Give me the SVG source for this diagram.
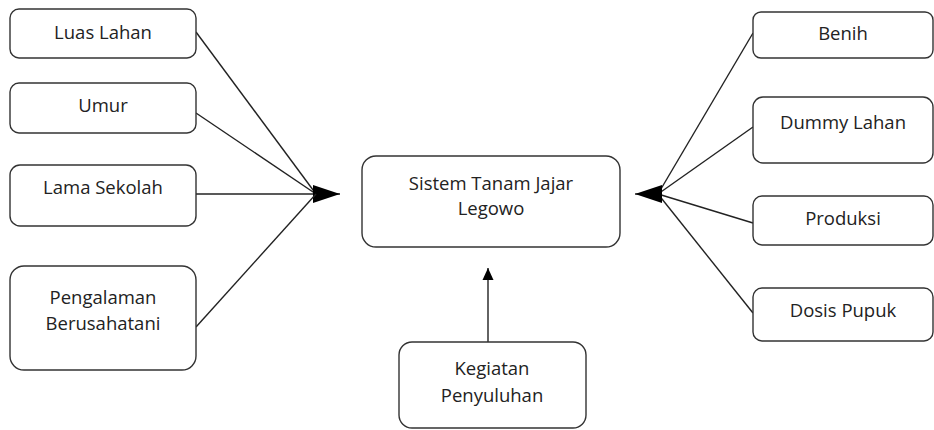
<svg xmlns="http://www.w3.org/2000/svg" width="934" height="430" viewBox="0 0 934 430">
<style>
.box{fill:#fff;stroke:#333;stroke-width:1.4}
.t{font-family:"Open Sans","Liberation Sans",sans-serif;font-size:18.5px;fill:#222;text-anchor:middle}
.c{stroke:#222;stroke-width:1.4;fill:none}
</style>
<defs>
<marker id="ah" markerWidth="28" markerHeight="18" refX="27" refY="9" orient="auto" markerUnits="userSpaceOnUse">
<path d="M0,0 L27,9 L0,18 Z" fill="#000"/>
</marker>
<marker id="ahs" markerWidth="12" markerHeight="12" refX="12" refY="6" orient="auto" markerUnits="userSpaceOnUse">
<path d="M0,0.5 L12,6 L0,11.5 Z" fill="#000"/>
</marker>
</defs>
<g id="connectors">
<line class="c" x1="196" y1="32" x2="316" y2="194"/>
<line class="c" x1="196" y1="113" x2="316" y2="194"/>
<line class="c" x1="196" y1="194" x2="340" y2="194" marker-end="url(#ah)"/>
<line class="c" x1="196" y1="327" x2="316" y2="194"/>
<line class="c" x1="753" y1="33" x2="658" y2="194"/>
<line class="c" x1="753" y1="127" x2="658" y2="194"/>
<line class="c" x1="753" y1="223" x2="658" y2="194"/>
<line class="c" x1="753" y1="313" x2="658" y2="194"/>
<line class="c" x1="660" y1="194" x2="635" y2="194" marker-end="url(#ah)"/>
<line class="c" x1="488" y1="342" x2="488" y2="268" marker-end="url(#ahs)"/>
</g>
<g id="luas-lahan"><rect class="box" x="10" y="9" width="186" height="49" rx="9"/><text class="t" x="103" y="39">Luas Lahan</text></g>
<g id="umur"><rect class="box" x="10" y="83" width="186" height="50" rx="9"/><text class="t" x="103" y="112">Umur</text></g>
<g id="lama-sekolah"><rect class="box" x="10" y="165" width="186" height="61" rx="10"/><text class="t" x="103" y="194">Lama Sekolah</text></g>
<g id="pengalaman"><rect class="box" x="10" y="266" width="186" height="104" rx="14"/><text class="t" x="103" y="304">Pengalaman</text><text class="t" x="103" y="330">Berusahatani</text></g>
<g id="sistem"><rect class="box" x="362" y="156" width="258" height="91" rx="14"/><text class="t" x="491" y="190">Sistem Tanam Jajar</text><text class="t" x="491" y="215">Legowo</text></g>
<g id="kegiatan"><rect class="box" x="399" y="342" width="187" height="86" rx="13"/><text class="t" x="492" y="375">Kegiatan</text><text class="t" x="492" y="402">Penyuluhan</text></g>
<g id="benih"><rect class="box" x="753" y="12" width="180" height="46" rx="8"/><text class="t" x="843" y="40">Benih</text></g>
<g id="dummy"><rect class="box" x="753" y="97" width="180" height="66" rx="10"/><text class="t" x="843" y="129">Dummy Lahan</text></g>
<g id="produksi"><rect class="box" x="753" y="196" width="180" height="49" rx="9"/><text class="t" x="843" y="225">Produksi</text></g>
<g id="dosis"><rect class="box" x="753" y="288" width="180" height="53" rx="9"/><text class="t" x="843" y="317">Dosis Pupuk</text></g>
</svg>
